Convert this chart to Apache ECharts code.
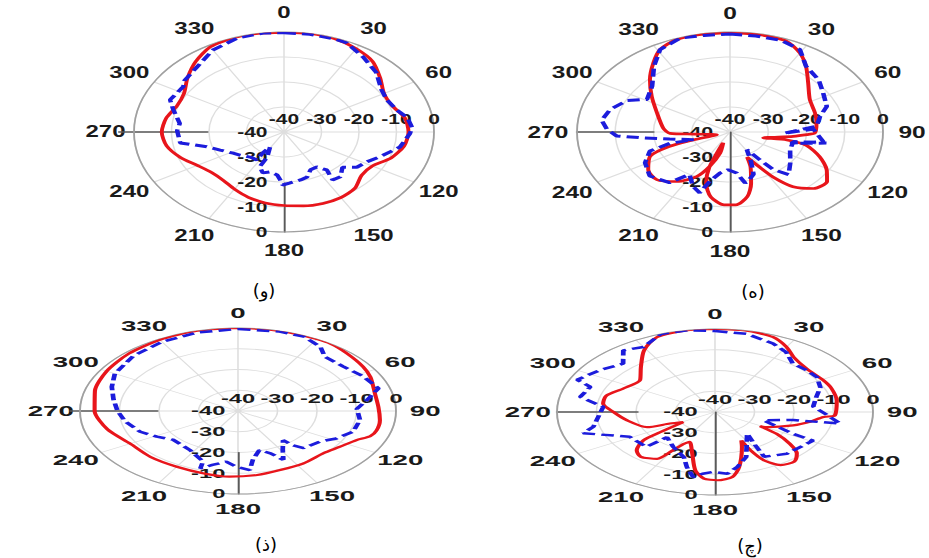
<!DOCTYPE html>
<html>
<head>
<meta charset="utf-8">
<title>Radiation patterns</title>
<script src="https://cdn.jsdelivr.net/npm/echarts@6.0.0/dist/echarts.min.js"></script>
<style>
html,body{margin:0;padding:0;background:#ffffff;}
body{width:929px;height:558px;position:relative;overflow:hidden;}
.pnl{position:absolute;width:300px;height:300px;}
#cap{position:absolute;left:0;top:0;width:929px;height:558px;}
</style>
</head>
<body>
<div id="cap"></div>
<div id="p1" class="pnl"></div>
<div id="p2" class="pnl"></div>
<div id="p3" class="pnl"></div>
<div id="p4" class="pnl"></div>
<script>
// ---------------- data: gain in dB against angle in degrees (clockwise from top) ----------------
const radialTicks = [-40, -30, -20, -10, 0];
const captions = ['(و)', '(ه)', '(ذ)', '(چ)'];

const p1RedAng = [0,10,20,30,40,50,60,70,80,90,100,110,120,130,140,150,160,170,180,190,200,210,220,230,240,250,260,270,280,290,300,310,320,330,340,350,360];
const p1RedDb  = [-0.2,0,-0.3,-1.5,-3.2,-6.5,-9.2,-9.3,-7.3,-6.8,-7.5,-9.6,-12.8,-13,-10.6,-9.7,-9.6,-10,-10.6,-11.2,-12.2,-13.6,-14.8,-14.8,-13.3,-10.5,-8.2,-7.4,-8.1,-9.6,-9.2,-6.4,-3.3,-0.7,0,0,-0.2];
const p1BlueAng = [0,10,20,25,35,46,57,65,74,80,87,91,98,101,111,118,126,132,140,146,143,148,155,161,167,176,181,183,186,193,199,205,204,212,214,213,222,232,238,247,254,261,271,277,287,293,304,308,318,330,342,352,360];
const p1BlueDb  = [-0.3,-0.3,-0.4,-0.6,-3.3,-5.8,-9,-9.7,-8.6,-6.6,-5.8,-6.4,-8,-8.5,-12.5,-14.8,-16,-19,-16.6,-16.8,-21,-23.5,-23.3,-21,-20.3,-19.5,-18.8,-20.8,-22.7,-23.6,-22.7,-24.6,-29,-33,-30,-26.7,-26.5,-25,-24,-21.5,-18.6,-12,-11.5,-12,-9.1,-7,-7.6,-6.4,-5.2,-2.1,-0.4,0,-0.3];

const p2RedAng = [0,11,22,30,37,46,58,71,81,91,93,96,105,102,105,113,121,128,136,143,148,152,156,159,165,170,177,183,191,197,201,203,202,197,201,206,215,225,235,245,250,252,253,265,268,275,292,305,315,324,331,339,349,360];
const p2RedDb  = [-0.4,-0.3,-0.8,-3.5,-7,-11.6,-15.4,-16.5,-17.1,-17.8,-19.9,-23.4,-31,-24.8,-19.3,-14.5,-10.5,-7.8,-8.6,-12.6,-18.8,-25,-29,-25,-18.7,-13.8,-10.8,-10.8,-13.6,-18.6,-25,-34.4,-35.3,-31.2,-25.3,-20.2,-15.8,-13,-13.9,-16.9,-23,-30,-36.4,-30.4,-24.3,-22.5,-19.4,-15,-10.4,-5.9,-2.3,-0.5,-0.3,-0.4];
const p2BlueAng = [0,10,20,29,37,48,57,68,75,84,89,92,87,99,106,100,101,103,114,128,138,143,145,148,155,160,166,169,174,182,189,195,198,204,212,218,230,241,250,254,252,260,264,267,272,278,286,295,301,312,323,331,341,350,360];
const p2BlueDb  = [-0.8,-1,-1,-2.3,-7,-8.8,-11,-12.7,-15.6,-17.2,-23.4,-26,-18.2,-15.3,-23.7,-14.4,-17.8,-23,-22.8,-20,-17.1,-21.2,-26.4,-31.7,-27,-22,-20,-19.2,-23.5,-24.9,-23.4,-19.6,-14.4,-16.2,-20,-14.3,-12.6,-14.6,-17.7,-23.7,-30,-24,-17.2,-10.3,-7.8,-6.1,-7.4,-10.3,-14.7,-12.6,-7,-2.3,-0.2,-0.8,-0.8];

const p3RedAng = [0,11,24,36,45,56,64,76,87,97,105,110,115,124,133,147,160,171,184,196,210,225,240,255,270,285,300,315,330,345,360];
const p3RedDb  = [0,0,0,0,-0.9,-1.8,-2.7,-4.3,-4.4,-3.8,-3.7,-4.4,-6.9,-9,-10.3,-9.8,-9.6,-8.8,-8.3,-8.7,-9,-8.7,-8.5,-5.8,-3.7,-2.5,-1.6,-0.9,-0.4,0,0];
const p3BlueAng = [0,15,25,34,40,51,62,73,81,88,98,109,118,125,137,140,141,149,154,158,164,171,174,181,187,194,199,200,213,230,239,248,260,270,280,290,300,315,330,345,360];
const p3BlueDb  = [-0.5,-0.3,-0.5,-2.7,-5.8,-5.8,-4.2,-2.8,-7,-9.9,-8.8,-9.2,-11.8,-14.5,-15.6,-18.4,-21.9,-18,-13.8,-18,-20.4,-16.1,-11.4,-13.2,-15.4,-13.2,-10.7,-14.1,-17.6,-18.5,-16,-13.3,-11,-9.5,-8,-6,-4,-2.5,-1.5,-0.8,-0.5];

const p4RedAng = [0,11,22,30,37,48,61,69,80,93,95,101,108,119,121,124,129,134,140,147,152,154,154,158,167,172,179,185,190,196,204,207,210,213,221,227,233,235,239,244,247,260,270,278,286,296,309,319,329,338,350,360];
const p4RedDb  = [0,0,-1,-3.8,-6.9,-8.8,-8.6,-8.4,-8.7,-9.6,-12.4,-15.5,-19.2,-25,-26.7,-21.2,-15.6,-11.2,-8.8,-9.5,-13.7,-19.5,-24.8,-21.8,-12.8,-8.4,-7.1,-7.8,-11.4,-19.1,-24.2,-22.8,-18.7,-13.1,-11.4,-12.9,-17.3,-23,-30.6,-27.3,-21.3,-17.3,-14.3,-11.4,-11.4,-14.2,-15.6,-11.4,-5.2,-1,0,0];
const p4BlueAng = [0,12,24,32,40,49,57,66,74,84,92,100,101,108,118,119,138,150,147,142,160,168,174,181,186,190,195,200,212,225,226,241,253,257,275,282,291,294,305,315,322,330,340,350,360];
const p4BlueDb  = [-1,-1.5,-3.9,-6,-9.4,-9.3,-9.2,-10.8,-13.3,-15,-12,-7.8,-19.8,-27.1,-17.6,-11.6,-12.9,-15.1,-21.9,-26.8,-16.9,-12.9,-10.1,-11.1,-10.1,-8.2,-12.5,-16.9,-20.1,-22.8,-15.8,-15.3,-5.1,-8.4,-11.6,-5.1,-6.2,-1.8,-4.6,-7.1,-2.3,-3.8,0,0,-1];

// ---------------- layout ----------------
const panels = [
  {id:'p1', cx:284, cy:132, sx:1.50, sy:1.00, hide:[90], leftLine:[51,110], downLine:[51,100], vMargin:-11, red:[p1RedAng,p1RedDb], blue:[p1BlueAng,p1BlueDb]},
  {id:'p2', cx:730, cy:132, sx:1.53, sy:1.00, hide:[],   leftLine:[50,100], downLine:[0,100],  vMargin:-11, red:[p2RedAng,p2RedDb], blue:[p2BlueAng,p2BlueDb]},
  {id:'p3', cx:238, cy:411, sx:1.58, sy:0.83, hide:[],   leftLine:[51,106], downLine:[50,100], vMargin:-8,  red:[p3RedAng,p3RedDb], blue:[p3BlueAng,p3BlueDb]},
  {id:'p4', cx:715, cy:412, sx:1.58, sy:0.83, hide:[],   leftLine:[49,100], downLine:[0,100],  vMargin:-11, red:[p4RedAng,p4RedDb], blue:[p4BlueAng,p4BlueDb]}
];
const capPos = [[264,290],[753,291],[266,544],[750,545]];

const BASE = '"Liberation Sans", Arial, Helvetica, sans-serif';
function fontOK(name){
  const c = document.createElement('canvas').getContext('2d');
  const s = '330 180 -40-30-20';
  c.font = 'bold 40px monospace'; const a = c.measureText(s).width;
  c.font = 'bold 40px serif'; const b = c.measureText(s).width;
  c.font = 'bold 40px "' + name + '", monospace'; const a2 = c.measureText(s).width;
  c.font = 'bold 40px "' + name + '", serif'; const b2 = c.measureText(s).width;
  return Math.abs(a2 - b2) < 0.01 && Math.abs(a2 - a) > 0.5;
}
const NARROW = fontOK('Liberation Sans Narrow') ? '"Liberation Sans Narrow", "Liberation Sans", sans-serif' : null;

function pairs(ang, db){ return ang.map((a, i) => [db[i], a]); }

function buildPanel(p){
  const el = document.getElementById(p.id);
  el.style.left = (p.cx - 150) + 'px';
  el.style.top = (p.cy - 150) + 'px';
  el.style.transformOrigin = '150px 150px';
  el.style.transform = 'scale(' + p.sx + ',' + p.sy + ')';
  const chart = echarts.init(el, null, {renderer: 'svg', width: 300, height: 300});
  const squash = p.sx / p.sy > 1.7;
  let fam = BASE, fsA = 16 / p.sy, fsR = 14 / p.sy;
  if (squash) {
    if (NARROW) { fam = NARROW; }
    else { fsA = 17.5; fsR = 15; }
  }
  const txt = '#1a1a1a';
  const rMin = radialTicks[0], rMax = radialTicks[radialTicks.length - 1];
  const rStep = radialTicks[1] - radialTicks[0];
  const hiddenAngle = {show:false, type:'value', min:0, max:360};
  const quietRadius = {type:'value', min:rMin, max:rMax, interval:rStep, axisLine:{show:false}, axisTick:{show:false}, splitLine:{show:false}};
  const option = {
    animation: false,
    backgroundColor: 'transparent',
    polar: [
      {center:['50%','50%'], radius:100},
      {center:['50%','50%'], radius:100},
      {center:['50%','50%'], radius:100},
      {center:['50%','50%'], radius:p.leftLine},
      {center:['50%','50%'], radius:p.downLine}
    ],
    angleAxis: [
      {polarIndex:0, type:'value', min:0, max:360, interval:30, startAngle:90, clockwise:true,
       axisLine:{show:true, lineStyle:{color:'#a0a0a0', width:1.2}},
       axisTick:{show:false},
       splitLine:{show:true, lineStyle:{color:'#dedede', width:1}},
       axisLabel:{show:true, margin: p.sy < 1 ? 18 : 18.5, color:txt, fontSize:fsA, fontWeight:'bold', fontFamily:fam,
         width:1, lineHeight:1, overflow:'none',
         formatter: v => (v >= 360 || p.hide.indexOf(v) >= 0) ? '' : '{c|' + v + '}',
         rich:{c:{align:'center', verticalAlign:'middle', lineHeight:1, fontSize:fsA, fontWeight:'bold', fontFamily:fam, color:txt}}}
      },
      Object.assign({polarIndex:1, startAngle:0}, hiddenAngle),
      Object.assign({polarIndex:2, startAngle:270}, hiddenAngle),
      Object.assign({polarIndex:3, startAngle:180}, hiddenAngle),
      Object.assign({polarIndex:4, startAngle:270}, hiddenAngle)
    ],
    radiusAxis: [
      {polarIndex:0, type:'value', min:rMin, max:rMax, interval:rStep,
       axisLine:{show:false}, axisTick:{show:false}, axisLabel:{show:false},
       splitLine:{show:true, lineStyle:{color:'#dedede', width:1}}},
      Object.assign({polarIndex:1, axisLabel:{show:true, margin:6 / p.sy, color:txt, fontSize:fsR, fontWeight:'bold', fontFamily:fam,
         formatter: v => String(v)}}, quietRadius),
      Object.assign({polarIndex:2, axisLabel:{show:true, margin:p.vMargin, align:'right', verticalAlign:'middle', color:txt, fontSize:fsR, fontWeight:'bold', fontFamily:fam,
         formatter: v => String(v)}}, quietRadius),
      {polarIndex:3, type:'value', min:rMin, max:rMax, axisLine:{show:true, lineStyle:{color:'#5a5a5a', width:1.6}}, axisTick:{show:false}, axisLabel:{show:false}, splitLine:{show:false}},
      {polarIndex:4, type:'value', min:rMin, max:rMax, axisLine:{show:true, lineStyle:{color:'#5a5a5a', width:1.2}}, axisTick:{show:false}, axisLabel:{show:false}, splitLine:{show:false}}
    ],
    series: [
      {name:'red', type:'line', coordinateSystem:'polar', polarIndex:0, data:pairs(p.red[0], p.red[1]),
       showSymbol:false, symbol:'none', smooth:0.25, clip:false, z:3,
       lineStyle:{color:'#e8151b', width:2.6}},
      {name:'blue', type:'line', coordinateSystem:'polar', polarIndex:0, data:pairs(p.blue[0], p.blue[1]),
       showSymbol:false, symbol:'none', smooth:false, clip:false, z:4,
       lineStyle:{color:'#1c1cdc', width:3, type:[8,4]}}
    ]
  };
  chart.setOption(option);
}
panels.forEach(buildPanel);

const capChart = echarts.init(document.getElementById('cap'), null, {renderer:'svg', width:929, height:558});
capChart.setOption({
  animation:false,
  graphic: captions.map((t, i) => ({
    type:'text', x:capPos[i][0], y:capPos[i][1],
    style:{text:t, fill:'#000', font:'18px "DejaVu Sans", sans-serif', align:'center', verticalAlign:'middle'}
  }))
});
</script>
</body>
</html>
